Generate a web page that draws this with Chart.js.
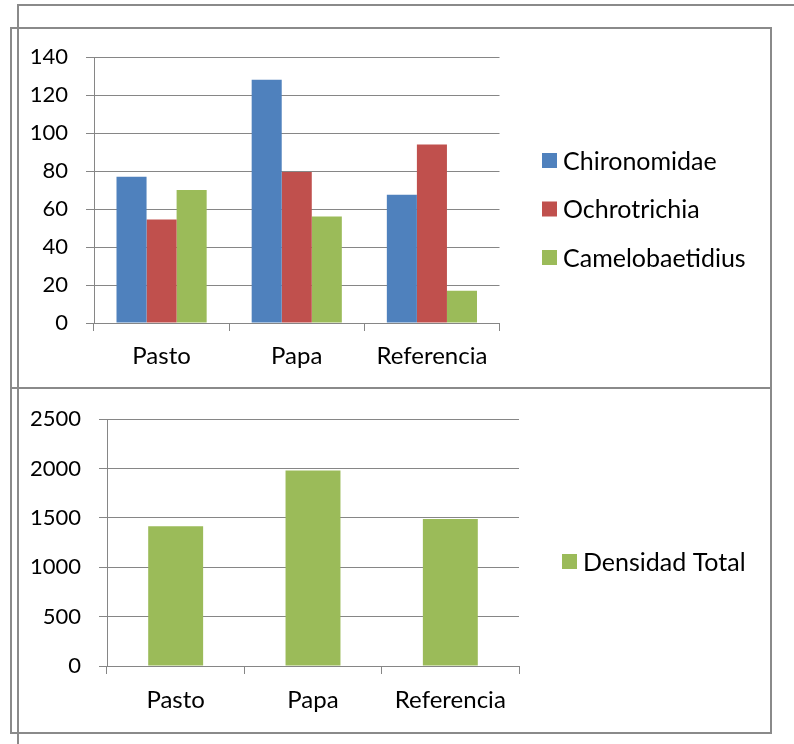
<!DOCTYPE html>
<html>
<head>
<meta charset="utf-8">
<script src="https://cdn.jsdelivr.net/npm/chart.js@4/dist/chart.umd.min.js"></script>
<style>
  html, body { margin: 0; padding: 0; background: #fff; }
  body { width: 794px; height: 744px; position: relative; overflow: hidden; }
  .frame { position: absolute; box-sizing: border-box; border-color: #8a8a8a; border-style: solid; }
  canvas { position: absolute; left: 0; }
</style>
</head>
<body>
<div class="frame" style="left:17px; top:4px; width:790px; height:760px; border-width:2px 0 0 2px;"></div>
<div class="frame" style="left:10px; top:27px; width:762px; height:707px; border-width:2px;"></div>
<div class="frame" style="left:10px; top:387px; width:762px; height:2px; border-width:2px 0 0 0;"></div>

<canvas id="taxa" width="794" height="388" style="top:0;"></canvas>
<canvas id="total" width="794" height="344" style="top:388px;"></canvas>

<script>
// Sampling sites
const categories = ['Pasto', 'Papa', 'Referencia'];

// Abundance per taxon
const chironomidae    = [77, 128, 67.5];
const ochrotrichia    = [54.5, 79.5, 94];
const camelobaetidius = [70, 56, 17];

// Total density per site
const densidadTotal = [1415, 1980, 1490];

// Axis tick values
const taxaTicks  = [0, 20, 40, 60, 80, 100, 120, 140];
const totalTicks = [0, 500, 1000, 1500, 2000, 2500];

const BLUE = '#4F81BD', RED = '#C0504D', GREEN = '#9BBB59';
const GRID = '#868686';
const FAMILY = 'Lato, "Open Sans", sans-serif';
const NUM_FONT = { family: FAMILY, size: 22 };
const CAT_FONT = { family: FAMILY, size: 24 };
const LEGEND_SIZE = 25;

Chart.defaults.font.family = FAMILY;
Chart.defaults.color = '#000';

// Legend drawn as a column of squares + labels at a fixed spot to the right
const sideLegend = {
  id: 'sideLegend',
  afterDraw(chart, args, opts) {
    const ctx = chart.ctx;
    const n = chart.data.datasets.length;
    const y0 = opts.centerY - (n - 1) * opts.gap / 2;
    ctx.save();
    ctx.font = `${LEGEND_SIZE}px ${FAMILY}`;
    ctx.textBaseline = 'middle';
    ctx.textAlign = 'left';
    chart.data.datasets.forEach((ds, i) => {
      const y = y0 + i * opts.gap;
      ctx.fillStyle = ds.backgroundColor;
      ctx.fillRect(opts.x, y - opts.box / 2, opts.box, opts.box);
      ctx.fillStyle = '#000';
      ctx.fillText(ds.label, opts.x + opts.box + 6, y + 1);
    });
    ctx.restore();
  }
};

function makeScales(ticks, yWidth, xHeight, yPad, xPad) {
  return {
    x: {
      offset: true,
      grid: { display: true, drawOnChartArea: false, drawTicks: true, tickLength: 8, color: GRID, offset: true },
      border: { display: true, color: GRID },
      ticks: { font: CAT_FONT, padding: xPad, color: '#000', maxRotation: 0 },
      afterFit(s) { s.height = xHeight; }
    },
    y: {
      min: ticks[0],
      max: ticks[ticks.length - 1],
      afterBuildTicks(s) { s.ticks = ticks.map(v => ({ value: v })); },
      grid: { color: GRID, lineWidth: 1, tickLength: 8, drawTicks: true },
      border: { display: true, color: GRID },
      ticks: { font: NUM_FONT, padding: yPad, color: '#000', callback: v => String(v) },
      afterFit(s) { s.width = yWidth; }
    }
  };
}

new Chart(document.getElementById('taxa'), {
  type: 'bar',
  data: {
    labels: categories,
    datasets: [
      { label: 'Chironomidae', data: chironomidae, backgroundColor: BLUE },
      { label: 'Ochrotrichia', data: ochrotrichia, backgroundColor: RED },
      { label: 'Camelobaetidius', data: camelobaetidius, backgroundColor: GREEN }
    ]
  },
  options: {
    responsive: false,
    animation: false,
    layout: { padding: { top: 57, right: 294.5, bottom: 0, left: 0 } },
    datasets: { bar: { categoryPercentage: 0.667, barPercentage: 1.0 } },
    scales: makeScales(taxaTicks, 94, 65, 18, 11),
    plugins: {
      legend: { display: false },
      tooltip: { enabled: false },
      sideLegend: { x: 542, box: 15, centerY: 209, gap: 48.5 }
    }
  },
  plugins: [sideLegend]
});

new Chart(document.getElementById('total'), {
  type: 'bar',
  data: {
    labels: categories,
    datasets: [
      { label: 'Densidad Total', data: densidadTotal, backgroundColor: GREEN }
    ]
  },
  options: {
    responsive: false,
    animation: false,
    layout: { padding: { top: 31, right: 275, bottom: 0, left: 0 } },
    datasets: { bar: { categoryPercentage: 0.4, barPercentage: 1.0 } },
    scales: makeScales(totalTicks, 107, 66, 18, 12),
    plugins: {
      legend: { display: false },
      tooltip: { enabled: false },
      sideLegend: { x: 562, box: 15, centerY: 173.5, gap: 0 }
    }
  },
  plugins: [sideLegend]
});
</script>
</body>
</html>
